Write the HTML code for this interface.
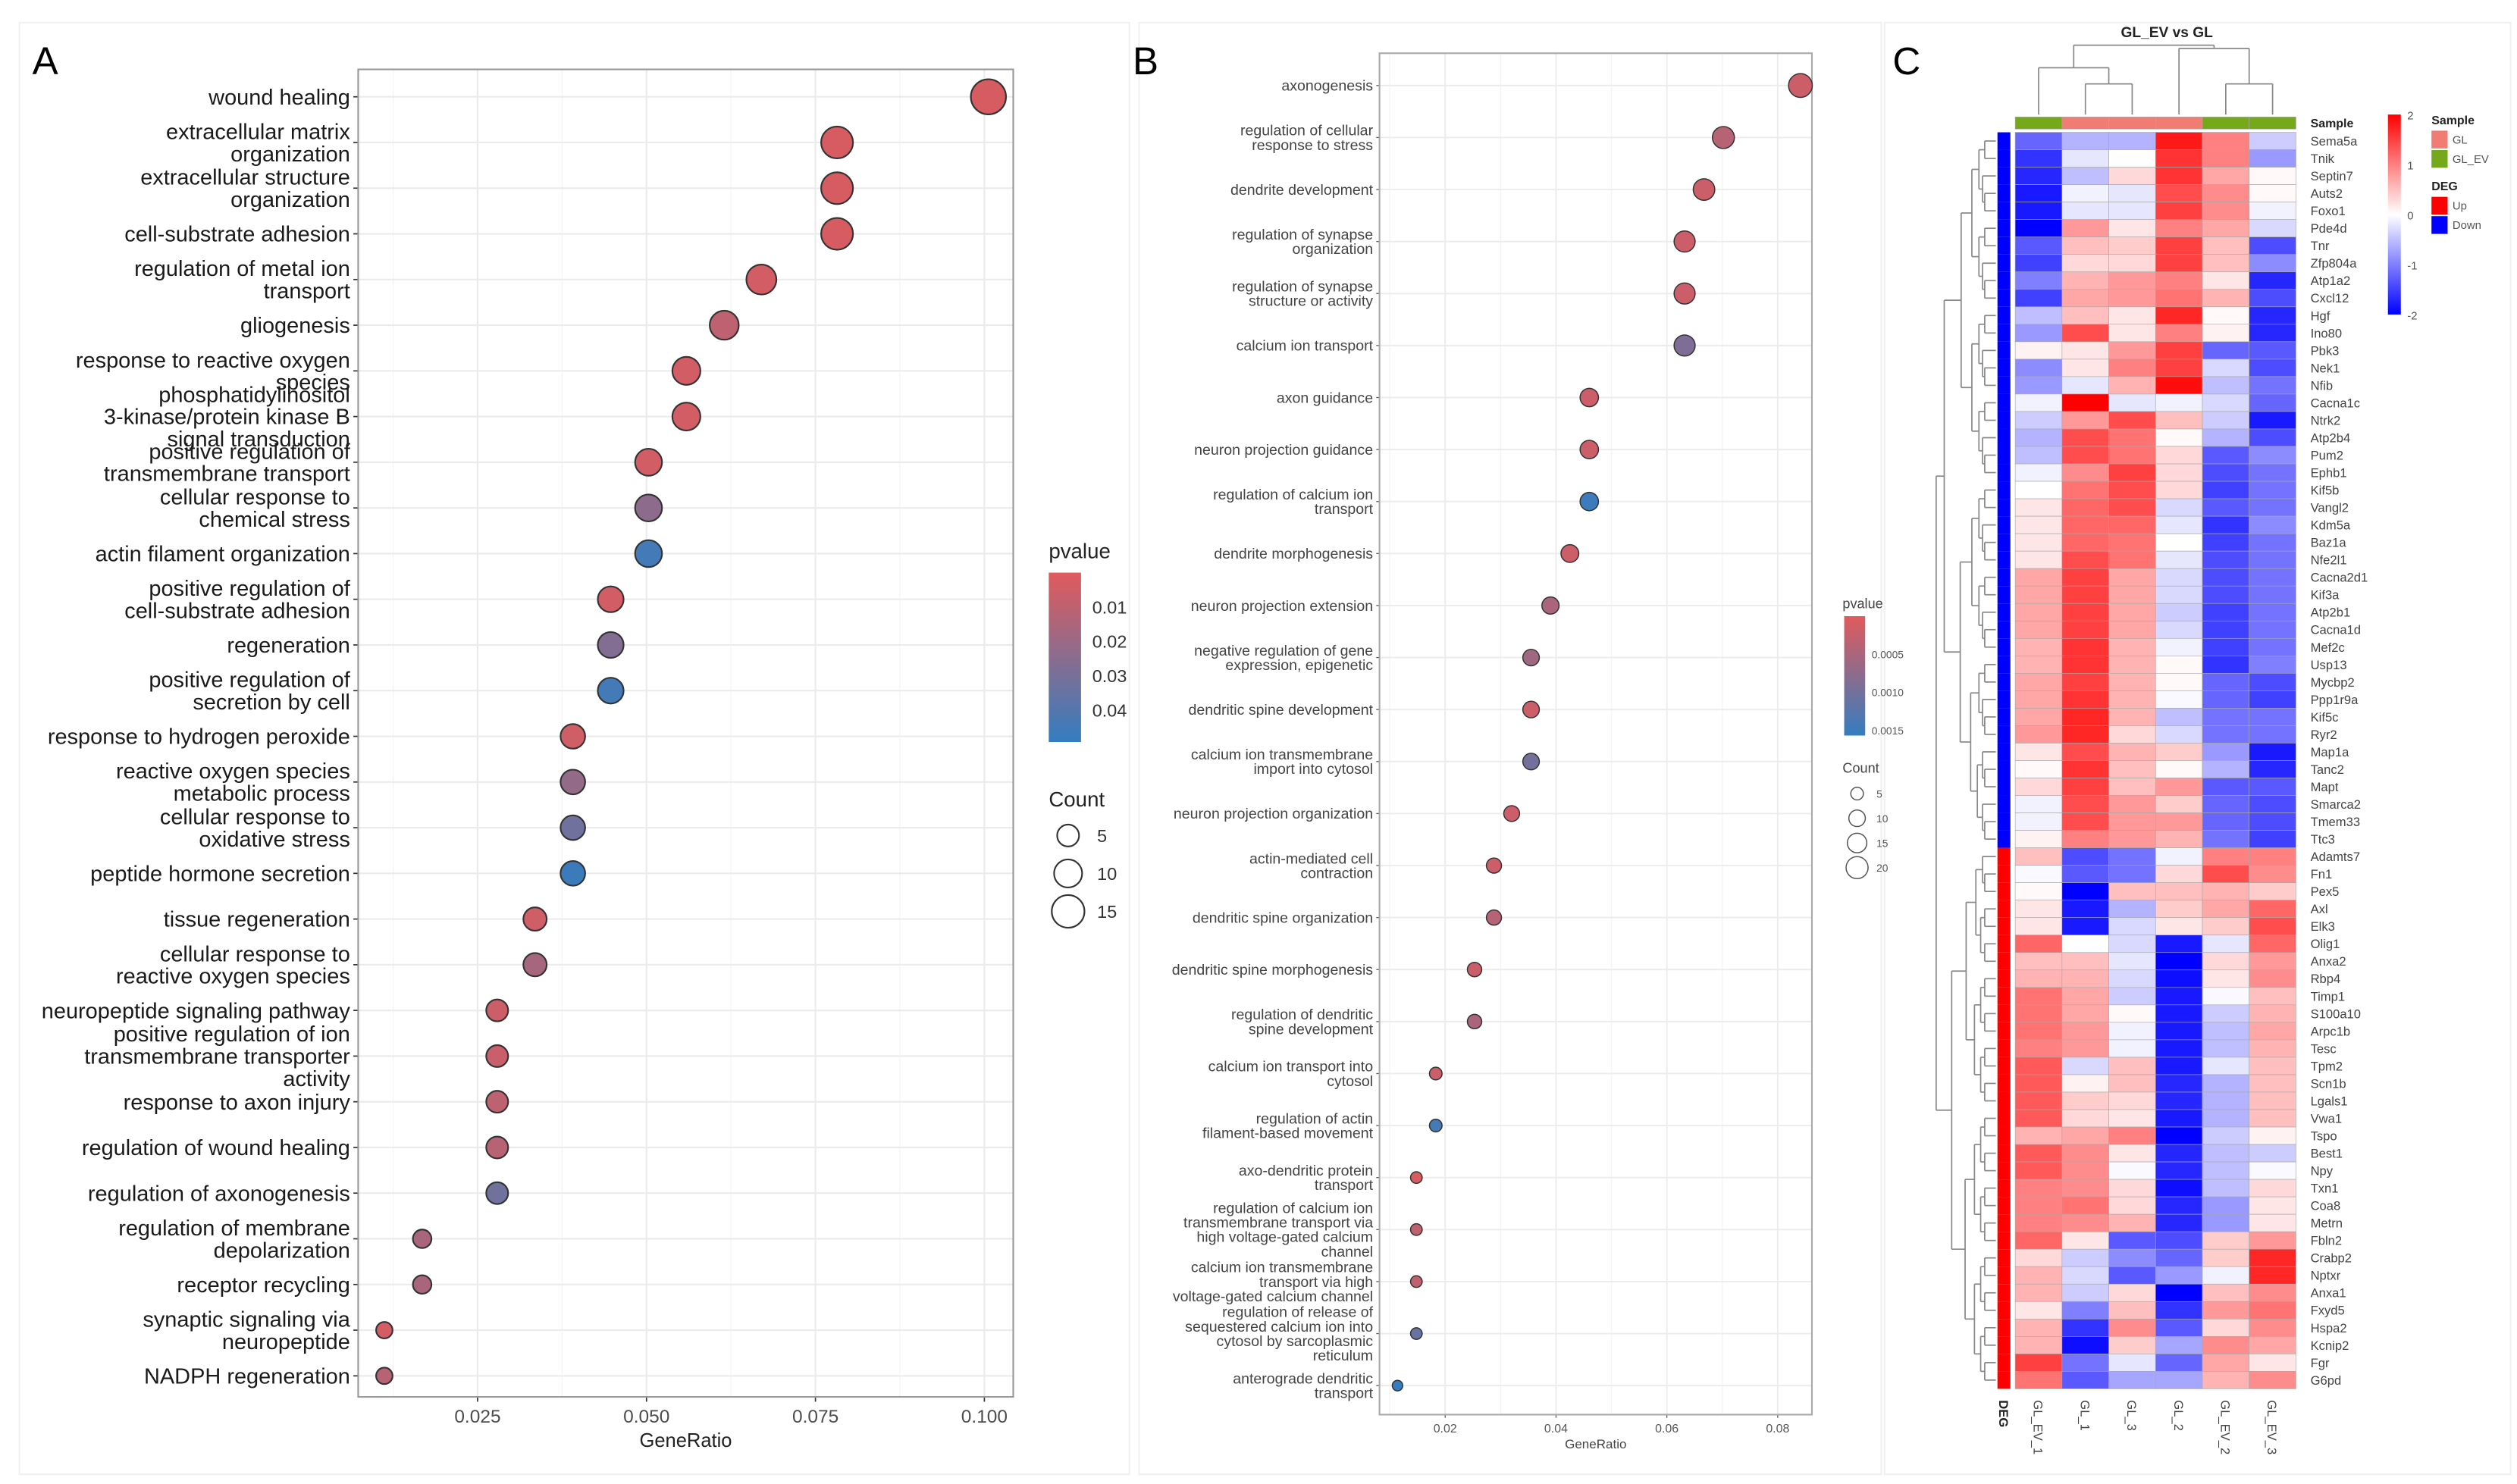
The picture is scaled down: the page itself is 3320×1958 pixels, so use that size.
<!DOCTYPE html>
<html><head><meta charset="utf-8">
<style>
html,body{margin:0;padding:0;background:#fff;}
svg{display:block;}
text{font-family:"Liberation Sans",sans-serif;}
</style></head>
<body>
<svg id="fig" width="3320" height="1958" viewBox="0 0 1560 920" xmlns="http://www.w3.org/2000/svg"></svg>
<script>
// ---------- Panel A data ----------
const A_terms = ["wound healing","extracellular matrix\norganization","extracellular structure\norganization","cell-substrate adhesion","regulation of metal ion\ntransport","gliogenesis","response to reactive oxygen\nspecies","phosphatidylinositol\n3-kinase/protein kinase B\nsignal transduction","positive regulation of\ntransmembrane transport","cellular response to\nchemical stress","actin filament organization","positive regulation of\ncell-substrate adhesion","regeneration","positive regulation of\nsecretion by cell","response to hydrogen peroxide","reactive oxygen species\nmetabolic process","cellular response to\noxidative stress","peptide hormone secretion","tissue regeneration","cellular response to\nreactive oxygen species","neuropeptide signaling pathway","positive regulation of ion\ntransmembrane transporter\nactivity","response to axon injury","regulation of wound healing","regulation of axonogenesis","regulation of membrane\ndepolarization","receptor recycling","synaptic signaling via\nneuropeptide","NADPH regeneration"];
const A_ratio = [0.1006,0.0782,0.0782,0.0782,0.0670,0.0615,0.0559,0.0559,0.0503,0.0503,0.0503,0.0447,0.0447,0.0447,0.0391,0.0391,0.0391,0.0391,0.0335,0.0335,0.0279,0.0279,0.0279,0.0279,0.0279,0.0168,0.0168,0.0112,0.0112];
const A_count = [18,14,14,14,12,11,10,10,9,9,9,8,8,8,7,7,7,7,6,6,5,5,5,5,5,3,3,2,2];
const A_pvalue = [0.003,0.003,0.003,0.003,0.004,0.010,0.004,0.004,0.004,0.024,0.045,0.004,0.027,0.045,0.005,0.022,0.032,0.047,0.005,0.017,0.006,0.007,0.010,0.012,0.032,0.016,0.016,0.004,0.012];
const A_ticks = [0.025,0.050,0.075,0.100];
const A_tickLabels = ["0.025","0.050","0.075","0.100"];
const A_pTicks = [0.01,0.02,0.03,0.04];
const A_sizeLegend = [5,10,15];

// ---------- Panel B data ----------
const B_terms = ["axonogenesis","regulation of cellular\nresponse to stress","dendrite development","regulation of synapse\norganization","regulation of synapse\nstructure or activity","calcium ion transport","axon guidance","neuron projection guidance","regulation of calcium ion\ntransport","dendrite morphogenesis","neuron projection extension","negative regulation of gene\nexpression, epigenetic","dendritic spine development","calcium ion transmembrane\nimport into cytosol","neuron projection organization","actin-mediated cell\ncontraction","dendritic spine organization","dendritic spine morphogenesis","regulation of dendritic\nspine development","calcium ion transport into\ncytosol","regulation of actin\nfilament-based movement","axo-dendritic protein\ntransport","regulation of calcium ion\ntransmembrane transport via\nhigh voltage-gated calcium\nchannel","calcium ion transmembrane\ntransport via high\nvoltage-gated calcium channel","regulation of release of\nsequestered calcium ion into\ncytosol by sarcoplasmic\nreticulum","anterograde dendritic\ntransport"];
const B_ratio = [0.0841,0.0702,0.0667,0.0632,0.0632,0.0632,0.0460,0.0460,0.0460,0.0425,0.0390,0.0355,0.0355,0.0355,0.0320,0.0288,0.0288,0.0253,0.0253,0.0183,0.0183,0.0148,0.0148,0.0148,0.0148,0.0114];
const B_count = [24,20,19,18,18,18,13,13,13,12,11,10,10,10,9,8,8,7,7,5,5,4,4,4,4,3];
const B_pvalue = [0.0002,0.0004,0.0002,0.0002,0.0002,0.0009,0.0002,0.0002,0.0015,0.0002,0.0005,0.0006,0.0002,0.0010,0.0002,0.0002,0.0004,0.0002,0.0005,0.0002,0.0014,0.0001,0.0003,0.0003,0.0011,0.0016];
const B_ticks = [0.02,0.04,0.06,0.08];
const B_tickLabels = ["0.02","0.04","0.06","0.08"];
const B_pTicks = [0.0005,0.0010,0.0015];
const B_pTickLabels = ["0.0005","0.0010","0.0015"];
const B_sizeLegend = [5,10,15,20];

// ---------- Panel C data ----------
const C_samples = ["GL_EV_1","GL_1","GL_3","GL_2","GL_EV_2","GL_EV_3"];
const C_group = ["GL_EV","GL","GL","GL","GL_EV","GL_EV"];
const C_genes = ["Sema5a","Tnik","Septin7","Auts2","Foxo1","Pde4d","Tnr","Zfp804a","Atp1a2","Cxcl12","Hgf","Ino80","Pbk3","Nek1","Nfib","Cacna1c","Ntrk2","Atp2b4","Pum2","Ephb1","Kif5b","Vangl2","Kdm5a","Baz1a","Nfe2l1","Cacna2d1","Kif3a","Atp2b1","Cacna1d","Mef2c","Usp13","Mycbp2","Ppp1r9a","Kif5c","Ryr2","Map1a","Tanc2","Mapt","Smarca2","Tmem33","Ttc3","Adamts7","Fn1","Pex5","Axl","Elk3","Olig1","Anxa2","Rbp4","Timp1","S100a10","Arpc1b","Tesc","Tpm2","Scn1b","Lgals1","Vwa1","Tspo","Best1","Npy","Txn1","Coa8","Metrn","Fbln2","Crabp2","Nptxr","Anxa1","Fxyd5","Hspa2","Kcnip2","Fgr","G6pd"];
const C_deg = ["Down","Down","Down","Down","Down","Down","Down","Down","Down","Down","Down","Down","Down","Down","Down","Down","Down","Down","Down","Down","Down","Down","Down","Down","Down","Down","Down","Down","Down","Down","Down","Down","Down","Down","Down","Down","Down","Down","Down","Down","Down","Up","Up","Up","Up","Up","Up","Up","Up","Up","Up","Up","Up","Up","Up","Up","Up","Up","Up","Up","Up","Up","Up","Up","Up","Up","Up","Up","Up","Up","Up","Up"];
const C_values = [
[-1.2,-0.6,-0.6,1.8,1.0,-0.4],[-1.6,-0.2,0.0,1.6,1.0,-0.8],[-1.7,-0.5,0.3,1.6,0.7,0.05],[-1.8,-0.1,-0.2,1.4,0.9,0.05],[-1.8,-0.2,-0.2,1.5,0.9,-0.1],
[-2.0,0.8,0.2,1.0,0.7,-0.3],[-1.3,0.5,0.4,1.5,0.5,-1.4],[-1.5,0.3,0.3,1.5,0.5,-0.9],[-1.0,0.6,0.8,1.0,0.2,-1.7],[-1.5,0.7,0.8,1.1,0.6,-1.4],
[-0.5,0.5,0.2,1.7,0.05,-1.7],[-0.8,1.4,0.2,1.0,0.1,-1.7],[0.1,0.2,0.8,1.5,-1.2,-1.3],[-0.9,0.2,1.0,1.5,-0.3,-1.4],[-0.8,-0.2,0.6,1.9,-0.5,-1.1],
[-0.1,2.0,-0.2,-0.1,-0.3,-1.2],[-0.4,0.8,1.4,0.5,-0.4,-1.8],[-0.6,1.4,1.1,0.05,-0.6,-1.4],[-0.5,1.4,1.1,0.3,-1.3,-0.9],[-0.1,0.9,1.5,0.3,-1.4,-1.1],
[0.0,1.1,1.4,0.3,-1.5,-1.1],[0.2,1.2,1.4,-0.3,-1.3,-1.1],[0.2,1.2,1.2,-0.2,-1.6,-0.9],[0.2,1.2,1.1,0.0,-1.5,-1.1],[0.2,1.4,1.1,-0.2,-1.4,-1.1],
[0.7,1.5,0.7,-0.3,-1.4,-1.1],[0.7,1.5,0.7,-0.3,-1.4,-1.1],[0.7,1.5,0.7,-0.4,-1.5,-1.1],[0.7,1.5,0.7,-0.3,-1.5,-1.1],[0.6,1.6,0.6,-0.1,-1.5,-1.1],
[0.6,1.6,0.6,0.05,-1.6,-1.0],[0.7,1.5,0.6,0.05,-1.2,-1.4],[0.7,1.6,0.6,-0.05,-1.2,-1.5],[0.7,1.7,0.6,-0.5,-1.1,-1.1],[0.8,1.7,0.3,-0.3,-1.1,-1.1],
[0.2,1.4,0.6,0.4,-0.8,-1.8],[0.05,1.6,0.5,0.05,-0.6,-1.7],[0.3,1.5,0.5,0.8,-1.3,-1.3],[-0.1,1.4,0.8,0.4,-1.2,-1.4],[-0.1,1.4,0.8,0.8,-1.2,-1.4],
[0.1,1.0,0.8,0.6,-1.1,-1.5],
[0.5,-1.4,-1.1,-0.1,1.0,1.0],[-0.05,-1.3,-1.1,0.3,1.4,0.9],[0.05,-2.0,0.5,0.5,0.6,0.4],[0.2,-1.8,-0.6,0.4,0.7,1.2],[0.2,-1.8,-0.3,0.2,0.4,1.4],
[1.2,0.0,-0.3,-1.8,-0.2,1.2],[0.5,0.5,-0.2,-2.0,0.3,0.8],[0.6,0.6,-0.3,-1.9,0.2,0.9],[1.1,0.7,-0.4,-1.8,-0.05,0.5],[1.1,0.7,0.05,-1.8,-0.4,0.6],
[1.1,0.8,-0.1,-1.8,-0.5,0.7],[1.0,0.8,-0.1,-1.8,-0.5,0.6],[1.3,-0.3,0.5,-1.8,-0.2,0.5],[1.3,0.1,0.5,-1.7,-0.6,0.5],[1.3,0.4,0.3,-1.7,-0.6,0.5],
[1.3,0.3,0.2,-1.8,-0.6,0.5],[0.6,0.7,1.0,-2.0,-0.4,0.1],[1.3,0.9,0.2,-1.7,-0.5,-0.4],[1.3,0.9,-0.05,-1.7,-0.5,-0.05],[1.0,0.9,0.3,-1.9,-0.5,0.3],
[1.0,1.1,0.3,-1.7,-0.8,0.2],[1.0,0.9,0.6,-1.7,-0.8,0.2],[1.2,0.2,-1.3,-1.4,0.4,0.8],[0.3,-0.4,-0.9,-1.2,0.4,1.7],[0.6,-0.3,-1.3,-0.8,-0.1,1.7],
[0.6,-0.4,0.3,-2.0,0.5,0.9],[0.2,-1.0,0.5,-1.6,0.8,1.1],[0.6,-1.6,0.9,-1.3,0.3,0.9],[0.6,-1.9,0.4,-0.7,0.9,0.7],[1.5,-1.1,-0.2,-1.2,0.7,0.2],
[1.1,-1.3,-0.7,-0.7,0.6,0.9]];
const C_scaleTicks = [2,1,0,-1,-2];

// ---------- helpers ----------
const NS = "http://www.w3.org/2000/svg";
const svg = document.getElementById("fig");
function mk(tag, attrs, parent){
  const e = document.createElementNS(NS, tag);
  for (const k in attrs) e.setAttribute(k, attrs[k]);
  (parent||svg).appendChild(e);
  return e;
}
function txt(str, attrs, parent){ const e = mk("text", attrs, parent); e.textContent = str; return e; }
function pcol(t){ t=Math.max(0,Math.min(1,t)); const a=[225,90,92], b=[52,125,192];
  return "rgb("+a.map((v,i)=>Math.round(v+(b[i]-v)*t)).join(",")+")"; }
function hcol(v){ v=Math.max(-2,Math.min(2,v)); let r,g,b;
  if(v>=0){ const t=v/2; r=255; g=Math.round(255*(1-t)); b=g; }
  else { const t=-v/2; b=255; r=Math.round(255*(1-t)); g=r; }
  return "rgb("+r+","+g+","+b+")"; }
function multiline(str, x, y, size, spacing, fill, parent, name){
  const lines = str.split("\n"); const n = lines.length;
  const g = mk("g", {}, parent);
  
  
  lines.forEach((ln,i)=>{
    const t = txt(ln, {x:x, y:y+(i-(n-1)/2)*spacing+size*0.35, "font-size":size, fill:fill, "text-anchor":"end"}, g);
    
    
  });
}

// panel frames
[[12,14,688,900],[706,14,460,900],[1168,14,388,900]].forEach((f,i)=>{
  const r = mk("rect",{x:f[0],y:f[1],width:f[2],height:f[3],fill:"none",stroke:"#f0f0f0","stroke-width":1});
  
  
});

// ================= PANEL A =================
(function(){
  const L=222,R=628,T=43,B=866;
  const xA = v => 191.3 + v*4188;
  const yA = i => 60 + i*28.32;
  const g = mk("g",{});
  
  
  const lab = txt("A",{x:20,y:46,"font-size":24,fill:"#000"},g);
  
  
  const bg = mk("rect",{x:L,y:T,width:R-L,height:B-T,fill:"#fff"},g);
  
  
  for(let v=0.0125; v<0.106; v+=0.025){
    const l = mk("line",{x1:xA(v),x2:xA(v),y1:T,y2:B,stroke:"#f4f4f4","stroke-width":0.6},g);
    
    
  }
  A_ticks.forEach((v,i)=>{
    const l = mk("line",{x1:xA(v),x2:xA(v),y1:T,y2:B,stroke:"#ebebeb","stroke-width":1},g);
    
    
    const tk = mk("line",{x1:xA(v),x2:xA(v),y1:B,y2:B+3,stroke:"#333","stroke-width":0.8},g);
    
    
    const t = txt(A_tickLabels[i],{x:xA(v),y:B+16,"font-size":11.5,fill:"#4d4d4d","text-anchor":"middle"},g);
    
    
  });
  A_terms.forEach((term,i)=>{
    const l = mk("line",{x1:L,x2:R,y1:yA(i),y2:yA(i),stroke:"#ebebeb","stroke-width":1},g);
    
    
    const tk = mk("line",{x1:L-3,x2:L,y1:yA(i),y2:yA(i),stroke:"#333","stroke-width":0.8},g);
    
    
    multiline(term, L-5, yA(i), 13.6, 13.8, "#1a1a1a", g, 'term-label');
  });
  const fr = mk("rect",{x:L,y:T,width:R-L,height:B-T,fill:"none",stroke:"#999","stroke-width":1},g);
  
  
  A_terms.forEach((term,i)=>{
    const c = mk("circle",{cx:xA(A_ratio[i]),cy:yA(i),r:2.2+2.05*Math.sqrt(A_count[i]),fill:pcol(A_pvalue[i]/0.0493),stroke:"#333","stroke-width":1},g);
    
    
  });
  const xt = txt("GeneRatio",{x:(L+R)/2,y:B+31,"font-size":12,fill:"#222","text-anchor":"middle"},g);
  
  
  const lt = txt("pvalue",{x:650,y:346,"font-size":13,fill:"#222"},g);
  
  
  const defs = mk("defs",{},g);
  const grad = mk("linearGradient",{id:"gA",x1:0,y1:0,x2:0,y2:1},defs);
  mk("stop",{offset:"0",["stop-color"]:pcol(0)},grad);
  mk("stop",{offset:"0.5",["stop-color"]:pcol(0.5)},grad);
  mk("stop",{offset:"1",["stop-color"]:pcol(1)},grad);
  const cb = mk("rect",{x:650,y:355,width:20,height:105,fill:"url(#gA)"},g);
  
  
  const yP = p => 355 + p/0.0493*105;
  A_pTicks.forEach(p=>{
    const t = txt(p.toFixed(2),{x:677,y:yP(p)+4,"font-size":11,fill:"#333"},g);
    
    
  });
  const ct = txt("Count",{x:650,y:500,"font-size":13,fill:"#222"},g);
  
  
  A_sizeLegend.forEach((c,i)=>{
    const y = 518 + i*23.5;
    const ci = mk("circle",{cx:662,cy:y,r:2.2+2.05*Math.sqrt(c),fill:"none",stroke:"#333","stroke-width":1},g);
    
    
    const t = txt(String(c),{x:680,y:y+4,"font-size":11,fill:"#333"},g);
    
    
  });
})();

// ================= PANEL B =================
(function(){
  const L=855,R=1123,T=33,B=877;
  const xB = v => 827 + v*3435;
  const yB = i => 53 + i*32.24;
  const g = mk("g",{});
  
  
  const lab = txt("B",{x:702,y:46,"font-size":24,fill:"#000"},g);
  
  
  for(let v=0.01; v<0.086; v+=0.02){
    const l = mk("line",{x1:xB(v),x2:xB(v),y1:T,y2:B,stroke:"#f4f4f4","stroke-width":0.6},g);
    
    
  }
  B_ticks.forEach((v,i)=>{
    const l = mk("line",{x1:xB(v),x2:xB(v),y1:T,y2:B,stroke:"#ececec","stroke-width":0.9},g);
    
    
    const tk = mk("line",{x1:xB(v),x2:xB(v),y1:B,y2:B+2,stroke:"#555","stroke-width":0.6},g);
    
    
    const t = txt(B_tickLabels[i],{x:xB(v),y:B+11,"font-size":7.5,fill:"#555","text-anchor":"middle"},g);
    
    
  });
  B_terms.forEach((term,i)=>{
    const l = mk("line",{x1:L,x2:R,y1:yB(i),y2:yB(i),stroke:"#ececec","stroke-width":0.9},g);
    
    
    const tk = mk("line",{x1:L-2,x2:L,y1:yB(i),y2:yB(i),stroke:"#555","stroke-width":0.6},g);
    
    
    multiline(term, L-4, yB(i), 9.2, 9, "#444", g, 'term-label');
  });
  const fr = mk("rect",{x:L,y:T,width:R-L,height:B-T,fill:"none",stroke:"#aaa","stroke-width":1},g);
  
  
  B_terms.forEach((term,i)=>{
    const c = mk("circle",{cx:xB(B_ratio[i]),cy:yB(i),r:1+1.3*Math.sqrt(B_count[i]),fill:pcol(B_pvalue[i]/0.00157),stroke:"#333","stroke-width":0.7},g);
    
    
  });
  const xt = txt("GeneRatio",{x:(L+R)/2,y:B+21,"font-size":8,fill:"#444","text-anchor":"middle"},g);
  
  
  const lt = txt("pvalue",{x:1142,y:377,"font-size":8.5,fill:"#444"},g);
  
  
  const cb = mk("rect",{x:1143,y:382,width:13,height:74,fill:"url(#gA)"},g);
  
  
  const yP = p => 382 + p/0.00157*74;
  B_pTicks.forEach((p,i)=>{
    const t = txt(B_pTickLabels[i],{x:1160,y:yP(p)+2.5,"font-size":6.5,fill:"#555"},g);
    
    
  });
  const ct = txt("Count",{x:1142,y:479,"font-size":8.5,fill:"#444"},g);
  
  
  B_sizeLegend.forEach((c,i)=>{
    const y = 492 + i*15.3;
    const ci = mk("circle",{cx:1151,cy:y,r:1+1.3*Math.sqrt(c),fill:"none",stroke:"#555","stroke-width":0.7},g);
    
    
    const t = txt(String(c),{x:1163,y:y+2.5,"font-size":6.5,fill:"#555"},g);
    
    
  });
})();

// ================= PANEL C =================
(function(){
  const X0=1249, CW=29, Y0=82, RH=(861-82)/72;
  const g = mk("g",{});
  
  
  const lab = txt("C",{x:1173,y:46,"font-size":24,fill:"#000"},g);
  
  
  const ti = txt("GL_EV vs GL",{x:1343,y:23,"font-size":9,"font-weight":"bold",fill:"#222","text-anchor":"middle"},g);
  
  
  const cx = j => X0 + j*CW + CW/2;
  const dcol = "#888";
  const bot = 71;
  const m23 = (cx(1)+cx(2))/2, m56 = (cx(4)+cx(5))/2;
  const mL = (cx(0)+m23)/2, mR = (cx(3)+m56)/2;
  const segs = [
    [cx(1),52,cx(2),52],[cx(1),52,cx(1),bot],[cx(2),52,cx(2),bot],
    [cx(0),42,m23,42],[cx(0),42,cx(0),bot],[m23,42,m23,52],
    [cx(4),52,cx(5),52],[cx(4),52,cx(4),bot],[cx(5),52,cx(5),bot],
    [cx(3),30,m56,30],[cx(3),30,cx(3),bot],[m56,30,m56,52],
    [mL,28,mR,28],[mL,28,mL,42],[mR,28,mR,30]
  ];
  segs.forEach(s=>{
    const l = mk("line",{x1:s[0],y1:s[1],x2:s[2],y2:s[3],stroke:dcol,"stroke-width":0.8},g);
    
    
  });
  C_group.forEach((grp,j)=>{
    const r = mk("rect",{x:X0+j*CW,y:72.5,width:CW,height:7.5,fill:grp==="GL"?"#F07C74":"#76A91A",stroke:"#aaa","stroke-width":0.3},g);
    
    
  });
  const sl = txt("Sample",{x:1432,y:79,"font-size":7.5,"font-weight":"bold",fill:"#222"},g);
  
  
  const yc = i => Y0 + i*RH + RH/2;
  function tree(a,b){
    if(b-a===1) return {x:1237, y:yc(a)};
    let m = (a===0 && b===72) ? 41 : Math.floor((a+b)/2);
    const l = tree(a,m), r = tree(m,b);
    const x = (a===0&&b===72) ? 1200 : 1237 - 30*Math.pow((b-a)/41,0.6) - 2;
    const v = mk("line",{x1:x,y1:l.y,x2:x,y2:r.y,stroke:dcol,"stroke-width":0.8},g);
    
    
    const h1 = mk("line",{x1:x,y1:l.y,x2:l.x,y2:l.y,stroke:dcol,"stroke-width":0.8},g);
    
    
    const h2 = mk("line",{x1:x,y1:r.y,x2:r.x,y2:r.y,stroke:dcol,"stroke-width":0.8},g);
    
    
    return {x:x, y:(l.y+r.y)/2};
  }
  tree(0,72);
  C_genes.forEach((gene,i)=>{
    const y = Y0 + i*RH;
    const d = mk("rect",{x:1238,y:y,width:8,height:RH,fill:C_deg[i]==="Up"?"#FF0000":"#0000FF"},g);
    
    
    C_values[i].forEach((v,j)=>{
      const c = mk("rect",{x:X0+j*CW,y:y,width:CW,height:RH,fill:hcol(v),stroke:"#a8a8a8","stroke-width":0.3},g);
      
      
    });
    const t = txt(gene,{x:1432,y:y+RH/2+2.8,"font-size":7.8,fill:"#444"},g);
    
    
  });
  C_samples.forEach((s,j)=>{
    const t = txt(s,{x:0,y:0,"font-size":7.8,fill:"#444",transform:"translate("+(cx(j)-3)+",868) rotate(90)"},g);
    
    
  });
  const dl = txt("DEG",{x:0,y:0,"font-size":7.8,"font-weight":"bold",fill:"#222",transform:"translate(1239,868) rotate(90)"},g);
  
  
  const defs = mk("defs",{},g);
  const grad = mk("linearGradient",{id:"gC",x1:0,y1:0,x2:0,y2:1},defs);
  mk("stop",{offset:"0",["stop-color"]:"#FF0000"},grad);
  mk("stop",{offset:"0.5",["stop-color"]:"#FFFFFF"},grad);
  mk("stop",{offset:"1",["stop-color"]:"#0000FF"},grad);
  const cb = mk("rect",{x:1480,y:71,width:8,height:124,fill:"url(#gC)"},g);
  
  
  C_scaleTicks.forEach(v=>{
    const t = txt(String(v),{x:1492,y:71+(2-v)/4*124+3,"font-size":7,fill:"#555"},g);
    
    
  });
  const st = txt("Sample",{x:1507,y:77,"font-size":7.5,"font-weight":"bold",fill:"#222"},g);
  
  
  [["GL","#F07C74",81],["GL_EV","#76A91A",93]].forEach(e=>{
    const r = mk("rect",{x:1507,y:e[2],width:10,height:11,fill:e[1]},g);
    
    
    const t = txt(e[0],{x:1520,y:e[2]+8,"font-size":7,fill:"#555"},g);
    
    
  });
  const dt = txt("DEG",{x:1507,y:118,"font-size":7.5,"font-weight":"bold",fill:"#222"},g);
  
  
  [["Up","#FF0000",122],["Down","#0000FF",134]].forEach(e=>{
    const r = mk("rect",{x:1507,y:e[2],width:10,height:11,fill:e[1]},g);
    
    
    const t = txt(e[0],{x:1520,y:e[2]+8,"font-size":7,fill:"#555"},g);
    
    
  });
})();
</script>
</body></html>
